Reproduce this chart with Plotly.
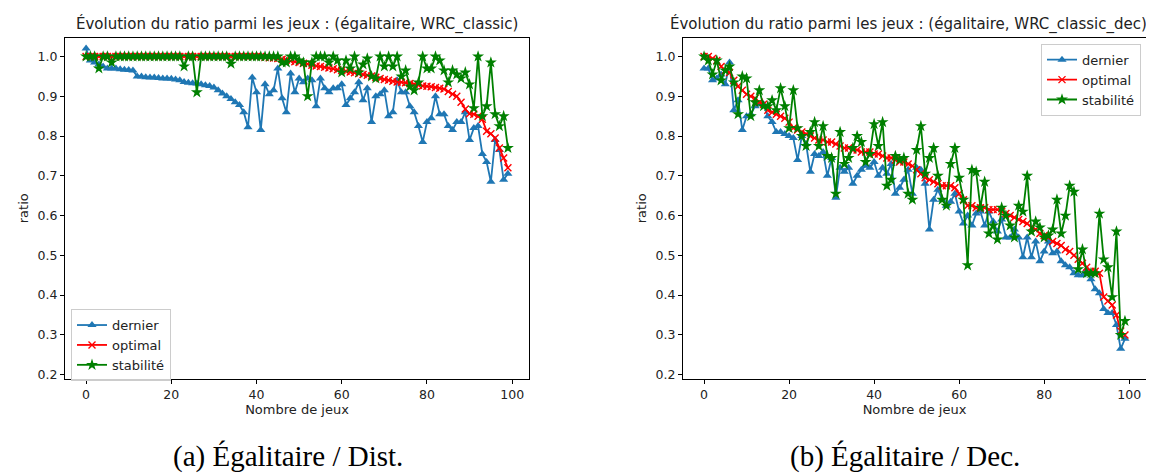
import plotly.graph_objects as go

games = list(range(100))

dist_dernier = [1.02, 0.99, 0.985, 0.98, 0.975, 0.97, 0.97, 0.97, 0.968, 0.967,
                0.966, 0.965, 0.95, 0.95, 0.948, 0.947, 0.947, 0.946, 0.945, 0.945,
                0.944, 0.942, 0.94, 0.936, 0.934, 0.933, 0.932, 0.93, 0.928, 0.926,
                0.922, 0.915, 0.907, 0.9, 0.893, 0.885, 0.878, 0.86, 0.822, 0.947,
                0.91, 0.815, 0.93, 0.905, 0.915, 0.97, 0.895, 0.86, 0.957, 0.91,
                0.945, 0.935, 0.945, 0.94, 0.875, 0.945, 0.92, 0.91, 0.92, 0.92,
                0.93, 0.878, 0.895, 0.91, 0.935, 0.89, 0.92, 0.835, 0.9, 0.905,
                0.915, 0.85, 0.86, 0.94, 0.91, 0.91, 0.875, 0.86, 0.825, 0.785,
                0.835, 0.845, 0.9, 0.855, 0.855, 0.825, 0.815, 0.835, 0.835, 0.86,
                0.79, 0.82, 0.825, 0.755, 0.735, 0.685, 0.79, 0.765, 0.69, 0.705]

dist_optimal = [1.0] * 42 + [
                0.998, 0.997, 0.996, 0.995, 0.993, 0.991, 0.989, 0.987,
                0.985, 0.983, 0.981, 0.978, 0.976, 0.975, 0.973, 0.971, 0.969, 0.967,
                0.965, 0.963, 0.961, 0.959, 0.957, 0.955, 0.953, 0.951, 0.948, 0.945,
                0.942, 0.94, 0.938, 0.936, 0.935, 0.934, 0.932, 0.93, 0.928, 0.926,
                0.925, 0.924, 0.922, 0.92, 0.918, 0.912, 0.905, 0.9, 0.885, 0.868,
                0.856, 0.855, 0.85, 0.842, 0.812, 0.806, 0.795, 0.77, 0.745, 0.72]

dist_stabilite = [1.0, 1.0, 1.0, 0.97, 1.0, 1.0, 0.985, 1.0, 1.0, 1.0,
                  1.0, 1.0, 1.0, 1.0, 1.0, 1.0, 1.0, 1.0, 1.0, 1.0,
                  1.0, 1.0, 1.0, 0.975, 1.0, 1.0, 0.91, 1.0, 1.0, 1.0,
                  1.0, 1.0, 1.0, 1.0, 0.982, 1.0, 1.0, 1.0, 1.0, 1.0,
                  1.0, 1.0, 1.0, 1.0, 1.0, 1.0, 0.985, 0.985, 1.0, 1.0,
                  0.99, 0.985, 0.9, 0.985, 1.0, 1.0, 1.0, 0.985, 1.0, 0.99,
                  0.96, 0.99, 0.97, 1.0, 0.96, 0.98, 0.995, 0.95, 0.945, 1.0,
                  0.975, 1.0, 0.975, 1.0, 0.95, 0.965, 0.925, 0.915, 0.935, 1.0,
                  0.97, 0.97, 1.0, 0.99, 0.965, 0.935, 0.965, 0.955, 0.945, 0.96,
                  0.93, 0.87, 1.0, 0.85, 0.875, 0.985, 0.855, 0.825, 0.85, 0.77]

dec_dernier = [0.97, 0.97, 0.94, 0.945, 0.955, 0.93, 0.985, 0.865, 0.89, 0.815,
               0.85, 0.855, 0.875, 0.88, 0.88, 0.85, 0.835, 0.81, 0.81, 0.805,
               0.8, 0.795, 0.74, 0.8, 0.78, 0.71, 0.755, 0.75, 0.76, 0.7,
               0.745, 0.645, 0.72, 0.71, 0.72, 0.68, 0.7, 0.715, 0.725, 0.72,
               0.735, 0.7, 0.72, 0.705, 0.73, 0.655, 0.67, 0.69, 0.715, 0.655,
               0.72, 0.715, 0.68, 0.565, 0.64, 0.665, 0.64, 0.625, 0.635, 0.655,
               0.61, 0.58, 0.6, 0.575, 0.605, 0.61, 0.575, 0.61, 0.585, 0.56,
               0.59, 0.545, 0.545, 0.565, 0.545, 0.495, 0.545, 0.495, 0.535, 0.485,
               0.51, 0.535, 0.505, 0.51, 0.485, 0.475, 0.47, 0.455, 0.45, 0.45,
               0.465, 0.44, 0.415, 0.405, 0.365, 0.355, 0.355, 0.325, 0.265, 0.29]

dec_optimal = [1.0, 1.0, 0.995, 0.99, 0.975, 0.965, 0.96, 0.94, 0.925, 0.915,
               0.905, 0.9, 0.895, 0.885, 0.88, 0.865, 0.86, 0.855, 0.85, 0.845,
               0.835, 0.82, 0.815, 0.81, 0.805, 0.8, 0.795, 0.79, 0.79, 0.785,
               0.785, 0.78, 0.775, 0.77, 0.77, 0.765, 0.765, 0.76, 0.76, 0.76,
               0.755, 0.755, 0.75, 0.745, 0.745, 0.74, 0.735, 0.735, 0.73, 0.725,
               0.715, 0.705, 0.695, 0.69, 0.685, 0.68, 0.675, 0.675, 0.675, 0.67,
               0.655, 0.64, 0.625, 0.625, 0.62, 0.62, 0.62, 0.615, 0.615, 0.615,
               0.61, 0.605, 0.6, 0.595, 0.59, 0.585, 0.58, 0.57, 0.565, 0.555,
               0.55, 0.545, 0.535, 0.53, 0.525, 0.515, 0.51, 0.5, 0.49, 0.48,
               0.47, 0.46, 0.46, 0.455, 0.395, 0.385, 0.375, 0.35, 0.31, 0.3]

dec_stabilite = [1.0, 0.99, 0.955, 0.99, 0.94, 0.965, 0.975, 0.935, 0.855, 0.95,
                 0.945, 0.85, 0.885, 0.915, 0.875, 0.875, 0.89, 0.865, 0.92, 0.875,
                 0.82, 0.915, 0.82, 0.8, 0.775, 0.81, 0.835, 0.775, 0.825, 0.75,
                 0.745, 0.655, 0.81, 0.73, 0.745, 0.77, 0.8, 0.785, 0.735, 0.755,
                 0.83, 0.775, 0.835, 0.675, 0.69, 0.75, 0.74, 0.745, 0.655, 0.64,
                 0.765, 0.825, 0.705, 0.745, 0.77, 0.7, 0.64, 0.625, 0.73, 0.77,
                 0.695, 0.64, 0.475, 0.715, 0.71, 0.62, 0.685, 0.555, 0.575, 0.54,
                 0.62, 0.6, 0.575, 0.545, 0.625, 0.61, 0.7, 0.56, 0.585, 0.57,
                 0.545, 0.55, 0.565, 0.64, 0.555, 0.6, 0.675, 0.66, 0.465, 0.515,
                 0.455, 0.455, 0.455, 0.605, 0.49, 0.47, 0.395, 0.56, 0.3, 0.335]

series_names = ["dernier", "optimal", "stabilité"]
x_ticks = [0, 20, 40, 60, 80, 100]
y_ticks = [0.2, 0.3, 0.4, 0.5, 0.6, 0.7, 0.8, 0.9, 1.0]
titles = ["Évolution du ratio parmi les jeux : (égalitaire, WRC_classic)",
          "Évolution du ratio parmi les jeux : (égalitaire, WRC_classic_dec)"]
captions = ["(a) Égalitaire / Dist.", "(b) Égalitaire / Dec."]

FONT = "DejaVu Sans"
styles = [
    dict(color="#1f77b4", symbol="triangle-up", size=8, line=dict(width=0)),
    dict(color="#ff0000", symbol="x-thin", size=7, line=dict(width=1.4, color="#ff0000")),
    dict(color="#008000", symbol="star", size=9, line=dict(width=0)),
]

fig = go.Figure()

panels = [
    ([dist_dernier, dist_optimal, dist_stabilite], "x", "y", "legend"),
    ([dec_dernier, dec_optimal, dec_stabilite], "x2", "y2", "legend2"),
]
for series, xa, ya, lg in panels:
    for name, vals, st in zip(series_names, series, styles):
        fig.add_trace(go.Scatter(
            x=games, y=vals, mode="lines+markers", name=name,
            line=dict(color=st["color"], width=1.8),
            marker=st, xaxis=xa, yaxis=ya, legend=lg,
        ))

W, H = 1154, 474
def px(x):
    return x / W
def py(y):
    return 1 - y / H

axis_common = dict(
    showgrid=False, zeroline=False, showline=True, mirror=True,
    linecolor="black", linewidth=1, ticks="outside", ticklen=4,
    tickcolor="black", tickfont=dict(family=FONT, size=12.5, color="#222"),
)

ydom = [py(373), py(30)]
yrange = [0.19, 1.047]
fig.update_layout(
    width=W, height=H, margin=dict(l=0, r=0, t=0, b=0),
    paper_bgcolor="white", plot_bgcolor="white",
    font=dict(family=FONT, size=13, color="#222"),
    xaxis=dict(domain=[px(57), px(521)], range=[-4.95, 103.95],
               tickvals=x_ticks, title=dict(text="Nombre de jeux", standoff=3,
                                            font=dict(size=13)), **axis_common),
    yaxis=dict(domain=ydom, range=yrange, tickvals=y_ticks,
               tickformat=".1f", title=dict(text="ratio", standoff=6,
                                            font=dict(size=13)), **axis_common),
    xaxis2=dict(domain=[px(675), px(1138)], range=[-4.95, 103.95], anchor="y2",
                tickvals=x_ticks, title=dict(text="Nombre de jeux", standoff=3,
                                             font=dict(size=13)), **axis_common),
    yaxis2=dict(domain=ydom, range=yrange, anchor="x2", tickvals=y_ticks,
                tickformat=".1f", title=dict(text="ratio", standoff=6,
                                             font=dict(size=13)), **axis_common),
    legend=dict(x=px(63), y=py(303), xanchor="left", yanchor="top",
                bgcolor="rgba(255,255,255,0.8)", bordercolor="#cccccc", borderwidth=1,
                font=dict(family=FONT, size=13), tracegroupgap=0, itemwidth=30),
    legend2=dict(x=px(1133), y=py(36), xanchor="right", yanchor="top",
                 bgcolor="rgba(255,255,255,0.8)", bordercolor="#cccccc", borderwidth=1,
                 font=dict(family=FONT, size=13), tracegroupgap=0, itemwidth=30),
    showlegend=True,
)

annotations = []
for title, cx in zip(titles, [px(289), px(900)]):
    annotations.append(dict(text=title, x=cx, y=py(16), xref="paper", yref="paper",
                            showarrow=False, xanchor="center", yanchor="middle",
                            font=dict(family=FONT, size=15, color="#222")))
for cap, cx in zip(captions, [px(280), px(897)]):
    annotations.append(dict(text=cap, x=cx, y=py(451), xref="paper", yref="paper",
                            showarrow=False, xanchor="center", yanchor="middle",
                            font=dict(family="Liberation Serif", size=29, color="black")))
fig.update_layout(annotations=annotations)

fig.write_html("out.html")
